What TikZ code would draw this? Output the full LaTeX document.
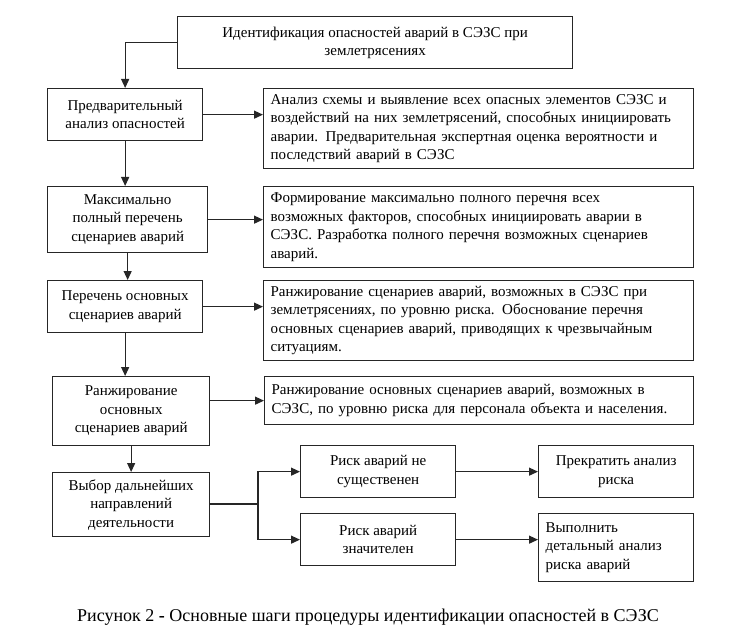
\documentclass[tikz,border=0pt]{standalone}
\usepackage{fontspec}
\setmainfont{Liberation Serif}
\usetikzlibrary{arrows.meta,calc}
\begin{document}
\begin{tikzpicture}[x=1pt,y=-1pt,
  box/.style={draw=black!85,line width=1.3pt,rectangle,anchor=north west,inner sep=0pt,
    font=\fontsize{15}{18.5}\selectfont,align=center},
  lbox/.style={box,align=left,inner xsep=7pt},
  conn/.style={line width=1.2pt,draw=black!85},
  arr/.style={conn,-{Triangle[length=9pt,width=8pt]}}]
\useasboundingbox (0,0) rectangle (754,631);
\node[box,minimum width=395pt,minimum height=52pt] (top) at (177,16)
  {Идентификация опасностей аварий в СЭЗС при\\землетрясениях};
\node[box,minimum width=155pt,minimum height=52pt] (p1) at (47,88)
  {Предварительный\\анализ опасностей};
\node[lbox,text width=416pt,minimum height=80pt] (r1) at (263,88)
  {Анализ схемы и выявление всех опасных элементов СЭЗС и\\воздействий на них землетрясений, способных инициировать\\аварии. Предварительная экспертная оценка вероятности и\\последствий аварий в СЭЗС};
\node[box,minimum width=160pt,minimum height=66pt] (p2) at (47,186)
  {Максимально\\полный перечень\\сценариев аварий};
\node[lbox,text width=416pt,minimum height=81pt] (r2) at (263,186)
  {Формирование максимально полного перечня всех\\возможных факторов, способных инициировать аварии в\\СЭЗС. Разработка полного перечня возможных сценариев\\аварий.};
\node[box,minimum width=155pt,minimum height=52pt] (p3) at (47,280)
  {Перечень основных\\сценариев аварий};
\node[lbox,text width=416pt,minimum height=80pt] (r3) at (263,280)
  {Ранжирование сценариев аварий, возможных в СЭЗС при\\землетрясениях, по уровню риска. Обоснование перечня\\основных сценариев аварий, приводящих к чрезвычайным\\ситуациям.};
\node[box,minimum width=157pt,minimum height=69pt] (p4) at (52,376)
  {Ранжирование\\основных\\сценариев аварий};
\node[lbox,text width=415pt,minimum height=48pt] (r4) at (264,376)
  {Ранжирование основных сценариев аварий, возможных в\\СЭЗС, по уровню риска для персонала объекта и населения.};
\node[box,minimum width=157pt,minimum height=64pt] (p5) at (52,472)
  {Выбор дальнейших\\направлений\\деятельности};
\node[box,minimum width=155pt,minimum height=52pt] (q1) at (300,445)
  {Риск аварий не\\существенен};
\node[box,minimum width=155pt,minimum height=52pt] (q2) at (300,513)
  {Риск аварий\\значителен};
\node[box,minimum width=155pt,minimum height=52pt] (s1) at (538,445)
  {Прекратить анализ\\риска};
\node[lbox,text width=141pt,minimum height=68pt] (s2) at (538,513)
  {Выполнить\\детальный анализ\\риска аварий};
\node[font=\fontsize{18}{21}\selectfont] (cap) at (368,617)
  {Рисунок 2 \textbf{-} Основные шаги процедуры идентификации опасностей в СЭЗС};
\draw[arr] (top.west) -| (p1.north);
\draw[arr] (p1.east) -- (r1.west |- p1.east);
\draw[arr] (p1.south) -- (p1.south |- p2.north);
\draw[arr] (p2.east) -- (r2.west |- p2.east);
\draw[arr] (p2.south) -- (p2.south |- p3.north);
\draw[arr] (p3.east) -- (r3.west |- p3.east);
\draw[arr] (p3.south) -- (p3.south |- p4.north);
\draw[arr] (r4.west -| p4.east) -- (r4.west);
\draw[arr] (p4.south) -- (p4.south |- p5.north);
\coordinate (br) at (258,504);
\draw[conn] (p5.east |- br) -- (br);
\draw[arr] (br) |- (q1.west);
\draw[arr] (br) |- (q2.west);
\draw[arr] (q1.east) -- (s1.west);
\draw[arr] (q2.east) -- (s2.west |- q2.east);
\end{tikzpicture}
\end{document}
